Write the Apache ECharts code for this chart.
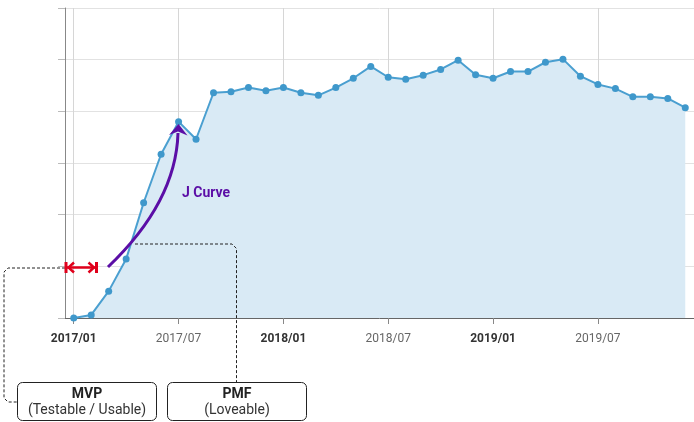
<!DOCTYPE html>
<html lang="en">
<head>
    <meta charset="utf-8">
    <title>J Curve</title>
    <script src="https://cdn.jsdelivr.net/npm/echarts@6/dist/echarts.min.js"></script>
    <style>
        html, body {margin: 0; padding: 0; background: #fff;}
    </style>
</head>
<body>
<div id="chart" style="width: 694px;height:422px;"></div>
<script type="application/javascript">
    // months 2017/01 .. 2019/12
    var months = [
        '2017/01', '2017/02', '2017/03', '2017/04', '2017/05', '2017/06',
        '2017/07', '2017/08', '2017/09', '2017/10', '2017/11', '2017/12',
        '2018/01', '2018/02', '2018/03', '2018/04', '2018/05', '2018/06',
        '2018/07', '2018/08', '2018/09', '2018/10', '2018/11', '2018/12',
        '2019/01', '2019/02', '2019/03', '2019/04', '2019/05', '2019/06',
        '2019/07', '2019/08', '2019/09', '2019/10', '2019/11', '2019/12'
    ];
    var users = [
        0, 6, 52, 114, 223, 317, 380, 346, 436, 438, 446, 440,
        446, 436, 431, 446, 464, 487, 466, 462, 470, 481, 499, 471,
        464, 477, 477, 495, 501, 468, 452, 444, 428, 428, 425, 407
    ];

    var purple = '#5b0ea6';
    var red = '#e0001b';
    var dash = [3, 2];

    var chart = echarts.init(document.getElementById('chart'));

    // annotations sit above the series
    var notes = [
        // dashed leader lines
        {type: 'polyline', shape: {points: [[65, 268], [8, 268], [4, 272], [4, 398], [8, 402], [17, 402]]},
            style: {stroke: '#222', lineWidth: 1, lineDash: dash, fill: null}},
        {type: 'polyline', shape: {points: [[135, 244], [232, 244], [236.5, 248.5], [236.5, 383]]},
            style: {stroke: '#222', lineWidth: 1, lineDash: dash, fill: null}},
        // J curve arrow
        {type: 'bezierCurve', shape: {x1: 108, y1: 267, cpx1: 176, cpy1: 202, x2: 178, y2: 133},
            style: {stroke: purple, lineWidth: 3, fill: null}},
        {type: 'polygon', shape: {points: [[178.5, 124], [169, 135], [178, 131.5], [187.5, 135.5]]},
            style: {fill: purple}},
        {type: 'text', x: 182, y: 193,
            style: {text: 'J Curve', fontFamily: 'Roboto', fontSize: 14, fontWeight: 'bold', fill: purple,
                verticalAlign: 'middle'}},
        // red span arrow
        {type: 'line', shape: {x1: 66, y1: 267.5, x2: 96.5, y2: 267.5}, style: {stroke: red, lineWidth: 2.5}},
        {type: 'line', shape: {x1: 66, y1: 262, x2: 66, y2: 273}, style: {stroke: red, lineWidth: 3}},
        {type: 'line', shape: {x1: 96.5, y1: 262, x2: 96.5, y2: 273}, style: {stroke: red, lineWidth: 3}},
        {type: 'polyline', shape: {points: [[74, 262.5], [68.5, 267.5], [74, 272.5]]}, style: {stroke: red, lineWidth: 2.5, fill: null}},
        {type: 'polyline', shape: {points: [[88.5, 262.5], [94, 267.5], [88.5, 272.5]]}, style: {stroke: red, lineWidth: 2.5, fill: null}},
        // boxes
        {type: 'rect', shape: {x: 17.5, y: 382.5, width: 139, height: 38, r: 5},
            style: {fill: '#fff', stroke: '#222', lineWidth: 1}},
        {type: 'rect', shape: {x: 167.5, y: 382.5, width: 139, height: 38, r: 5},
            style: {fill: '#fff', stroke: '#222', lineWidth: 1}},
        {type: 'text', x: 87, y: 394, style: {text: 'MVP', fontFamily: 'Roboto', fontSize: 14, fontWeight: 'bold',
                fill: '#222', align: 'center', verticalAlign: 'middle'}},
        {type: 'text', x: 87, y: 410, style: {text: '(Testable / Usable)', fontFamily: 'Roboto', fontSize: 14,
                fill: '#333', align: 'center', verticalAlign: 'middle'}},
        {type: 'text', x: 237, y: 394, style: {text: 'PMF', fontFamily: 'Roboto', fontSize: 14, fontWeight: 'bold',
                fill: '#222', align: 'center', verticalAlign: 'middle'}},
        {type: 'text', x: 237, y: 410, style: {text: '(Loveable)', fontFamily: 'Roboto', fontSize: 14,
                fill: '#333', align: 'center', verticalAlign: 'middle'}}
    ];
    notes.forEach(function (g) {
        g.z = 100;
    });

    var option = {
        animation: false,
        grid: {left: 65, right: 0, top: 8, bottom: 104},
        xAxis: {
            type: 'category',
            boundaryGap: true,
            data: months,
            axisLine: {lineStyle: {color: '#666'}},
            axisTick: {show: true, alignWithLabel: true, interval: 5, length: 6, lineStyle: {color: '#888'}},
            splitLine: {show: true, alignWithLabel: true, interval: 5, lineStyle: {color: '#d6d6d6'}},
            axisLabel: {
                interval: 5,
                margin: 15,
                formatter: function (v) {
                    return v.slice(5) === '01' ? '{b|' + v + '}' : '{n|' + v + '}';
                },
                rich: {
                    b: {fontFamily: 'Roboto', fontSize: 12, fontWeight: 'bold', color: '#333'},
                    n: {fontFamily: 'Roboto', fontSize: 12, color: '#666'}
                }
            }
        },
        yAxis: {
            type: 'value',
            min: 0,
            max: 600,
            interval: 100,
            axisLine: {show: true, lineStyle: {color: '#888'}},
            axisTick: {show: true, length: 7, lineStyle: {color: '#bbb'}},
            axisLabel: {show: false},
            splitLine: {lineStyle: {color: '#e2e2e2'}}
        },
        series: [{
            type: 'line',
            data: users,
            symbol: 'circle',
            symbolSize: 7,
            itemStyle: {color: '#3f98cb'},
            lineStyle: {color: '#4a9fd0', width: 2},
            areaStyle: {color: '#d9eaf5', opacity: 1}
        }],
        graphic: notes
    };

    chart.setOption(option);
</script>
</body>
</html>
